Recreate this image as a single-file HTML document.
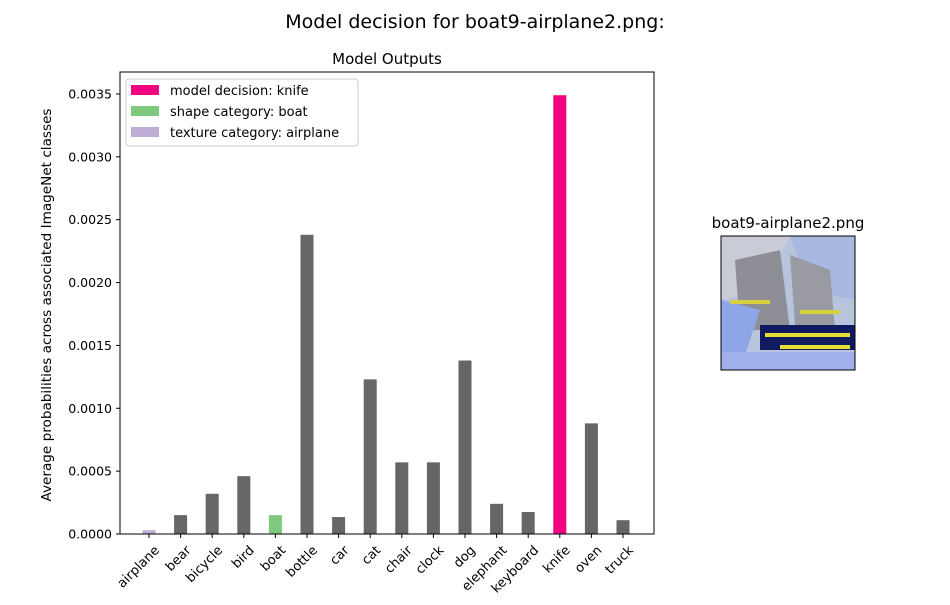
<!DOCTYPE html>
<html><head><meta charset="utf-8"><style>
body{margin:0;background:#fff;font-family:"Liberation Sans","DejaVu Sans",sans-serif}
</style></head><body>
<svg width="950" height="600" viewBox="0 0 950 600" xmlns="http://www.w3.org/2000/svg" font-family="DejaVu Sans, Liberation Sans, sans-serif">
<rect width="950" height="600" fill="#fff"/>
<text x="475" y="28" font-size="19" text-anchor="middle">Model decision for boat9-airplane2.png:</text>
<text x="387" y="64" font-size="15" text-anchor="middle">Model Outputs</text>
<g id="bars"></g>
<g id="yaxis"></g>
<g id="xaxis"></g>
<rect x="120" y="72" width="534" height="462" fill="none" stroke="#000" stroke-width="1"/>
<text transform="translate(51,305) rotate(-90)" font-size="13.6" text-anchor="middle">Average probabilities across associated ImageNet classes</text>
<g>
<rect x="126" y="79" width="232" height="67" fill="#fff" stroke="#ccc" rx="3"/>
<rect x="131" y="85" width="28" height="10" fill="#f0047f"/>
<text x="170" y="95" font-size="13">model decision: knife</text>
<rect x="131" y="106" width="28" height="10" fill="#7fc97f"/>
<text x="170" y="116" font-size="13">shape category: boat</text>
<rect x="131" y="127" width="28" height="10" fill="#beaed4"/>
<text x="170" y="137" font-size="13">texture category: airplane</text>
</g>
<text x="788" y="228" font-size="15" text-anchor="middle">boat9-airplane2.png</text>
<g>
<rect x="721" y="236" width="134" height="134" fill="#b8c4dc"/>
<polygon points="721,236 790,236 760,290 721,300" fill="#c9ccd6"/>
<polygon points="790,236 855,236 855,300 810,290" fill="#a9b8e0"/>
<polygon points="735,260 780,250 790,330 740,330" fill="#8e8f96"/>
<polygon points="790,255 830,270 835,330 795,325" fill="#9a9aa3"/>
<polygon points="721,300 760,310 740,370 721,370" fill="#8ea6e8"/>
<rect x="760" y="325" width="95" height="25" fill="#101a60"/>
<rect x="765" y="333" width="85" height="4" fill="#e8e030"/>
<rect x="780" y="345" width="70" height="4" fill="#e8e030"/>
<rect x="730" y="300" width="40" height="4" fill="#d8d040"/>
<rect x="800" y="310" width="40" height="4" fill="#d8d040"/>
<rect x="721" y="352" width="134" height="18" fill="#9fb0ea"/>
<rect x="721" y="236" width="134" height="134" fill="none" stroke="#000"/>
</g>
</svg>
<script>
const categories=["airplane","bear","bicycle","bird","boat","bottle","car","cat","chair","clock","dog","elephant","keyboard","knife","oven","truck"];
const values=[0.00003,0.00015,0.00032,0.00046,0.00015,0.00238,0.000135,0.00123,0.00057,0.00057,0.00138,0.00024,0.000175,0.00349,0.00088,0.00011];
const yTicks=[0,0.0005,0.001,0.0015,0.002,0.0025,0.003,0.0035];
const yTickLabels=["0.0000","0.0005","0.0010","0.0015","0.0020","0.0025","0.0030","0.0035"];
const decision="knife",shape="boat",texture="airplane";
const NS="http://www.w3.org/2000/svg";
const y=v=>534-v/0.0005*62.86;
const x=i=>149+i*31.6;
function mk(t,a,p){const e=document.createElementNS(NS,t);for(const k in a)e.setAttribute(k,a[k]);p.appendChild(e);return e;}
const gb=document.getElementById('bars'),gy=document.getElementById('yaxis'),gx=document.getElementById('xaxis');
categories.forEach((c,i)=>{
  const col=c===decision?'#f0047f':c===shape?'#7fc97f':c===texture?'#beaed4':'#666666';
  const r=mk('rect',{x:x(i)-6.5,y:y(values[i]),width:13,height:534-y(values[i]),fill:col},gb);
  
  
  mk('line',{x1:x(i),x2:x(i),y1:534,y2:538,stroke:'#000'},gx);
  const t=mk('text',{x:0,y:0,'font-size':13,'text-anchor':'end',transform:`translate(${x(i)+11},${551}) rotate(-45)`},gx);
  t.textContent=c;
  
  
});
yTicks.forEach((v,i)=>{
  mk('line',{x1:116,x2:120,y1:y(v),y2:y(v),stroke:'#000'},gy);
  const t=mk('text',{x:112,y:y(v)+4.5,'font-size':12.5,'text-anchor':'end'},gy);
  t.textContent=yTickLabels[i];
  
  
});
</script>
</body></html>
